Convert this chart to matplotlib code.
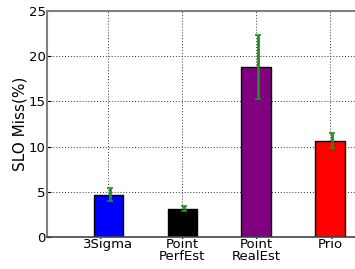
import numpy as np
import matplotlib.pyplot as plt

labels = ['3Sigma', 'Point\nPerfEst', 'Point\nRealEst', 'Prio']
miss = [4.7, 3.15, 18.8, 10.65]
err = [0.7, 0.25, 3.5, 0.8]
colors = ['blue', 'black', 'purple', 'red']

fig = plt.figure(figsize=(3.55, 2.69), dpi=100)
ax = fig.add_axes([47 / 355, 32 / 269, (365 - 47) / 355, 226 / 269])

ind = np.arange(len(labels))
ax.bar(ind, miss, 0.4, color=colors, edgecolor='black', linewidth=1.0, zorder=2)
ax.errorbar(ind + 0.02, miss, yerr=err, fmt='none', ecolor='forestgreen',
            elinewidth=2.0, capsize=2.5, capthick=1.2, zorder=3)

ax.set_xlim(-0.83, 3.47)
ax.set_ylim(0, 25)
ax.set_yticks([0, 5, 10, 15, 20, 25])
ax.set_xticks(ind)
ax.set_xticklabels(labels, fontsize=9.5, linespacing=0.9)
ax.tick_params(axis='y', labelsize=9.5, direction='in', length=3, pad=1)
ax.tick_params(axis='x', direction='in', length=3, pad=1)
ax.set_ylabel('SLO Miss(%)', fontsize=11, labelpad=1)

ax.grid(True, linestyle=(0, (1, 2)), color='#333333', linewidth=0.7, zorder=0)
ax.set_axisbelow(True)
ax.spines['right'].set_visible(False)
for s in ['left', 'top']:
    ax.spines[s].set_color('gray')
    ax.spines[s].set_linewidth(1.5)
ax.spines['bottom'].set_color('#444444')
ax.spines['bottom'].set_linewidth(1.2)

fig.savefig('out.png', dpi=100)
